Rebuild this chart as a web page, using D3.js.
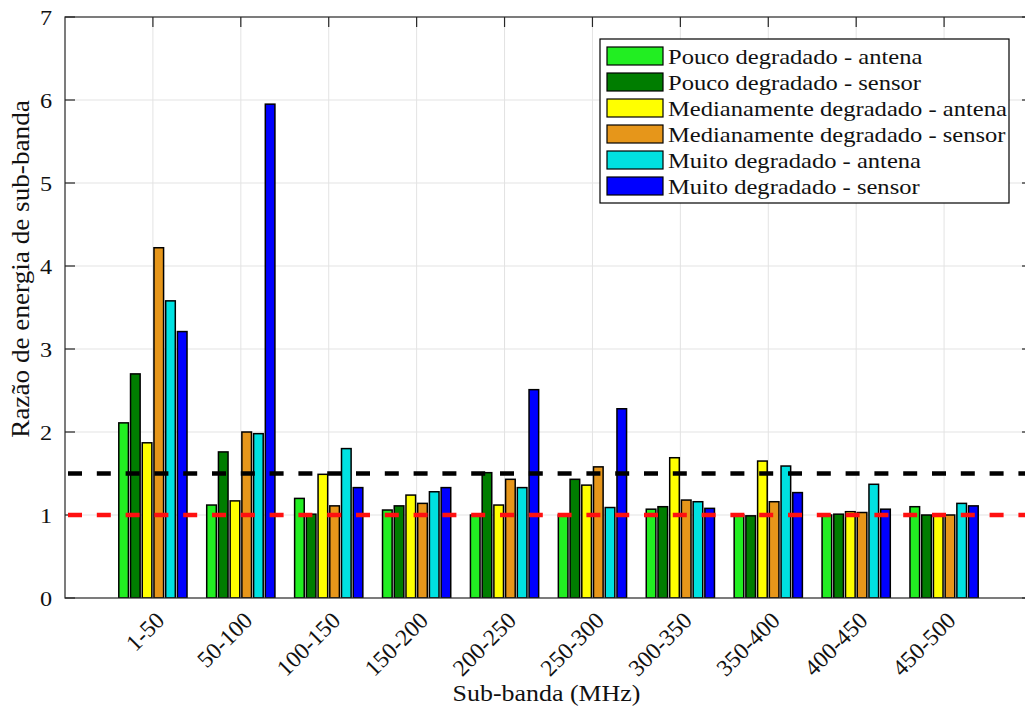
<!DOCTYPE html>
<html>
<head>
<meta charset="utf-8">
<script src="https://cdn.jsdelivr.net/npm/d3@7"></script>
<style>
  html, body { margin: 0; padding: 0; background: #fff; }
  svg { display: block; }
</style>
</head>
<body>
<svg id="chart" width="1025" height="707"></svg>
<script>
// Sub-band energy ratio per frequency band, for each degradation level / measurement point
const categories = ["1-50", "50-100", "100-150", "150-200", "200-250",
                    "250-300", "300-350", "350-400", "400-450", "450-500"];

const seriesNames = [
  "Pouco degradado - antena",
  "Pouco degradado - sensor",
  "Medianamente degradado - antena",
  "Medianamente degradado - sensor",
  "Muito degradado - antena",
  "Muito degradado - sensor"
];

const seriesColors = ["#22ee22", "#007d00", "#ffff00", "#e6961a", "#00e1e1", "#0000ff"];

const poucoAntena   = [2.11, 1.12, 1.20, 1.06, 1.00, 1.00, 1.07, 1.00, 1.00, 1.10];
const poucoSensor   = [2.70, 1.76, 1.01, 1.11, 1.51, 1.43, 1.10, 0.99, 1.01, 1.00];
const medAntena     = [1.87, 1.17, 1.49, 1.24, 1.12, 1.36, 1.69, 1.65, 1.04, 1.01];
const medSensor     = [4.22, 2.00, 1.11, 1.14, 1.43, 1.58, 1.18, 1.16, 1.03, 1.00];
const muitoAntena   = [3.58, 1.98, 1.80, 1.28, 1.33, 1.09, 1.16, 1.59, 1.37, 1.14];
const muitoSensor   = [3.21, 5.95, 1.33, 1.33, 2.51, 2.28, 1.08, 1.27, 1.07, 1.11];

const seriesValues = [poucoAntena, poucoSensor, medAntena, medSensor, muitoAntena, muitoSensor];

const yTicks = [0, 1, 2, 3, 4, 5, 6, 7];

// Horizontal reference levels
const thresholdValues = [1.5, 1.0];
const thresholdColors = ["#000000", "#ff1010"];

const xLabel = "Sub-banda (MHz)";
const yLabel = "Razão de energia de sub-banda";

const FONT = "'Liberation Serif', 'Times New Roman', Tinos, 'DejaVu Serif', serif";
const TEXT_COLOR = "#111";

// ---- layout ----
const svg = d3.select("#chart");
svg.attr("font-family", FONT);
const plot = { left: 65, top: 17, right: 1032, bottom: 598 };

// groups sit at 1..N on a 0..N+1 axis
const x = d3.scaleLinear().domain([0, categories.length + 1]).range([plot.left, plot.right]);
const y = d3.scaleLinear().domain([0, 7]).range([plot.bottom, plot.top]);

const nSeries = seriesValues.length;
const groupWidth = 0.8;
const slot = groupWidth / nSeries;      // spacing between bar centres, in x units
const barW = slot * 0.82;               // drawn bar width, in x units

const defs = svg.append("defs");
defs.append("clipPath").attr("id", "plotClip")
  .append("rect").attr("x", plot.left).attr("y", plot.top)
  .attr("width", plot.right - plot.left).attr("height", plot.bottom - plot.top);

// ---- grid ----
const grid = svg.append("g").attr("stroke", "#e3e3e3").attr("stroke-width", 1);
yTicks.filter(t => t > 0 && t < 7).forEach(t => {
  grid.append("line").attr("x1", plot.left).attr("x2", plot.right)
    .attr("y1", y(t)).attr("y2", y(t));
});
categories.forEach((c, i) => {
  grid.append("line").attr("x1", x(i + 1)).attr("x2", x(i + 1))
    .attr("y1", plot.top).attr("y2", plot.bottom);
});

// ---- bars ----
const bars = svg.append("g").attr("clip-path", "url(#plotClip)");
seriesValues.forEach((vals, s) => {
  bars.append("g")
    .selectAll("rect")
    .data(vals)
    .join("rect")
    .attr("x", (d, i) => x(i + 1 + (s - (nSeries - 1) / 2) * slot - barW / 2))
    .attr("width", x(barW) - x(0))
    .attr("y", d => y(d))
    .attr("height", d => y(0) - y(d))
    .attr("fill", seriesColors[s])
    .attr("stroke", "#000")
    .attr("stroke-width", 1.5);
});

// ---- axes box and ticks ----
const axisColor = "#262626";
const axes = svg.append("g").attr("stroke", axisColor).attr("stroke-width", 1.2).attr("fill", "none");
axes.append("rect").attr("x", plot.left).attr("y", plot.top)
  .attr("width", plot.right - plot.left).attr("height", plot.bottom - plot.top);
const tickLen = 10;
yTicks.forEach(t => {
  axes.append("line").attr("x1", plot.left).attr("x2", plot.left + tickLen).attr("y1", y(t)).attr("y2", y(t));
  axes.append("line").attr("x1", plot.right).attr("x2", plot.right - tickLen).attr("y1", y(t)).attr("y2", y(t));
});
categories.forEach((c, i) => {
  axes.append("line").attr("x1", x(i + 1)).attr("x2", x(i + 1)).attr("y1", plot.top).attr("y2", plot.top + tickLen);
});

// ---- threshold lines (drawn over the bars) ----
thresholdValues.forEach((v, k) => {
  svg.append("line")
    .attr("x1", plot.left).attr("x2", plot.right)
    .attr("y1", y(v)).attr("y2", y(v))
    .attr("stroke", thresholdColors[k])
    .attr("stroke-width", 4.5)
    .attr("stroke-dasharray", "14 14.8")
    .attr("stroke-dashoffset", -3);
});

// ---- tick labels ----
svg.append("g").selectAll("text").data(yTicks).join("text")
  .attr("transform", d => `translate(${plot.left - 13},${y(d)}) scale(1.1,1)`)
  .attr("dy", "0.35em")
  .attr("text-anchor", "end")
  .attr("font-size", 22)
  .attr("fill", TEXT_COLOR)
  .text(d => d);

svg.append("g").selectAll("text").data(categories).join("text")
  .attr("transform", (d, i) => `translate(${x(i + 1) + 13},${plot.bottom + 24}) rotate(-45)`)
  .attr("text-anchor", "end")
  .attr("font-size", 23.5)
  .attr("fill", TEXT_COLOR)
  .text(d => d);

// ---- axis titles ----
svg.append("text")
  .attr("transform", `translate(${(plot.left + plot.right) / 2 - 2},701) scale(1.08,1)`)
  .attr("text-anchor", "middle")
  .attr("font-size", 24)
  .attr("fill", TEXT_COLOR)
  .text(xLabel);

svg.append("text")
  .attr("transform", `translate(29,269) rotate(-90) scale(1.11,1)`)
  .attr("text-anchor", "middle")
  .attr("font-size", 24.5)
  .attr("fill", TEXT_COLOR)
  .text(yLabel);

// ---- legend ----
const legend = svg.append("g").attr("transform", "translate(600,39)");
legend.append("rect").attr("width", 409).attr("height", 164)
  .attr("fill", "#fff").attr("stroke", "#000").attr("stroke-width", 1.2);
seriesNames.forEach((name, s) => {
  const row = legend.append("g").attr("transform", `translate(0,${8 + s * 26})`);
  row.append("rect").attr("x", 7).attr("y", 0).attr("width", 56).attr("height", 18)
    .attr("fill", seriesColors[s]).attr("stroke", "#000").attr("stroke-width", 1.2);
  row.append("text")
    .attr("transform", "translate(68,9) scale(1.17,1)")
    .attr("dy", "0.36em")
    .attr("font-size", 21)
    .attr("fill", TEXT_COLOR)
    .text(name);
});
</script>
</body>
</html>
